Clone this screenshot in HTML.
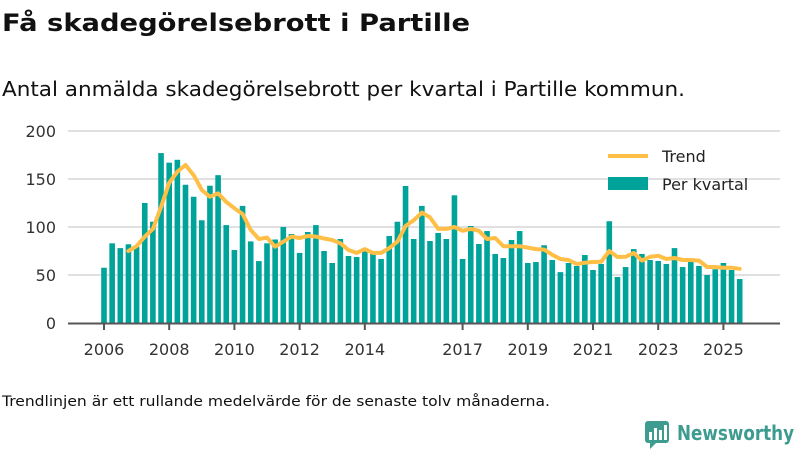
<!DOCTYPE html>
<html><head><meta charset="utf-8"><style>
body{margin:0;background:#fff;}
svg{display:block;font-family:"DejaVu Sans","Liberation Sans",sans-serif;}
</style></head><body>
<svg id="chart" width="800" height="450" viewBox="0 0 800 450">
<text x="2" y="31" font-size="24" font-weight="bold" fill="#111" textLength="468" lengthAdjust="spacingAndGlyphs">Få skadegörelsebrott i Partille</text>
<text x="2" y="96" font-size="20" fill="#111" textLength="683" lengthAdjust="spacingAndGlyphs">Antal anmälda skadegörelsebrott per kvartal i Partille kommun.</text>
<g id="grid"></g><g id="bars"></g><g id="trend"></g><g id="axes"></g>
<g>
<line x1="608" y1="156" x2="648" y2="156" stroke="#ffbf47" stroke-width="4"/>
<text x="662" y="162" font-size="16" fill="#222">Trend</text>
<rect x="608" y="177" width="40" height="13" fill="#00a39a"/>
<text x="662" y="190" font-size="16" fill="#222">Per kvartal</text>
</g>
<text x="2" y="406" font-size="14" fill="#111" textLength="548" lengthAdjust="spacingAndGlyphs">Trendlinjen är ett rullande medelvärde för de senaste tolv månaderna.</text>
<g>
<rect x="645" y="421" width="24" height="22" rx="3" fill="#3d9b8f"/>
<path d="M650 443 L650 449 L656 443 Z" fill="#3d9b8f"/>
<rect x="649" y="432" width="3" height="8" fill="#fff"/><rect x="654" y="428" width="3" height="12" fill="#fff"/><rect x="659" y="430" width="3" height="10" fill="#fff"/><rect x="664" y="425" width="3" height="15" fill="#fff"/>
<text x="677" y="440" font-size="20" font-weight="bold" fill="#3d9b8f" textLength="117" lengthAdjust="spacingAndGlyphs">Newsworthy</text>
</g>
</svg>
<script>
const values=[57.6,83,78,82,79.5,125,105.5,177,167,170,144,131.5,107,143,154,102,76,122,85,64.5,83,87,100,92.7,73,94.8,102,75,62.5,87.5,69.8,68.8,78,71.9,66.7,90.6,105.5,142.7,87.5,122,85.4,93.8,87.5,133,66.7,101,82.3,95.8,71.9,67.7,86.5,95.8,62.5,63.5,81,65.6,53,62.5,59.4,70.8,55.2,61.5,106,47.9,58.3,77,71.9,65.6,64.6,61.5,78,58.3,63.5,59.4,50,56,62.5,55.2,45.8];
const trendStart=3;
const trend=[75,80,90,98,121,146,157.6,164.6,154,138.5,131.6,135,126,119.6,113.5,97,87.5,89,79.5,84.7,90,88.5,90.6,90,88,86.5,83,76,73,77,73,73,78,84.7,101,107,115,110,98,98,100,96,98,96,87.5,88.5,80,80,80,78.5,77,76.5,71,66.7,65.6,61.5,62.8,63.5,63.9,75,68.7,69,72.9,65,69,70,66.7,67.7,65.6,65.6,65,58.3,58.3,57.6,57.6,56.5];
const yTicks=[0,50,100,150,200];
const xTickYears=[2006,2008,2010,2012,2014,2017,2019,2021,2023,2025];
const firstYear=2006;
const NS="http://www.w3.org/2000/svg";
function x(i){return 104+8.15*i;}
function y(v){return 323-v*0.96;}
function mk(t,a,p){const e=document.createElementNS(NS,t);for(const k in a)e.setAttribute(k,a[k]);p.appendChild(e);return e;}
const grid=document.getElementById('grid'),bars=document.getElementById('bars'),tr=document.getElementById('trend'),axes=document.getElementById('axes');
yTicks.forEach(v=>{
 if(v>0){const l=mk('line',{x1:68,x2:780,y1:y(v),y2:y(v),stroke:'#e0e0e0','stroke-width':2},grid);
 
 }
 const t=mk('text',{x:56,y:y(v)+6,'text-anchor':'end','font-size':16,fill:'#333'},axes);t.textContent=v;
 
 
});
values.forEach((v,i)=>{
 const r=mk('rect',{x:x(i)-2.8,y:y(v),width:5.6,height:v*0.96,fill:'#00a39a'},bars);
 
 
});
const pts=trend.map((v,j)=>x(j+trendStart).toFixed(1)+','+y(v).toFixed(1)).join(' ');
const pl=mk('polyline',{points:pts,fill:'none',stroke:'#ffbf47','stroke-width':4,'stroke-linejoin':'round','stroke-linecap':'round'},tr);


const ax=mk('line',{x1:68,x2:780,y1:323.5,y2:323.5,stroke:'#555','stroke-width':2},axes);


xTickYears.forEach(yr=>{
 const i=(yr-firstYear)*4;
 const tk=mk('line',{x1:x(i),x2:x(i),y1:323,y2:330,stroke:'#555','stroke-width':2},axes);
 
 
 const t=mk('text',{x:x(i),y:355,'text-anchor':'middle','font-size':16,fill:'#333'},axes);t.textContent=yr;
 
 
});
</script>
</body></html>
